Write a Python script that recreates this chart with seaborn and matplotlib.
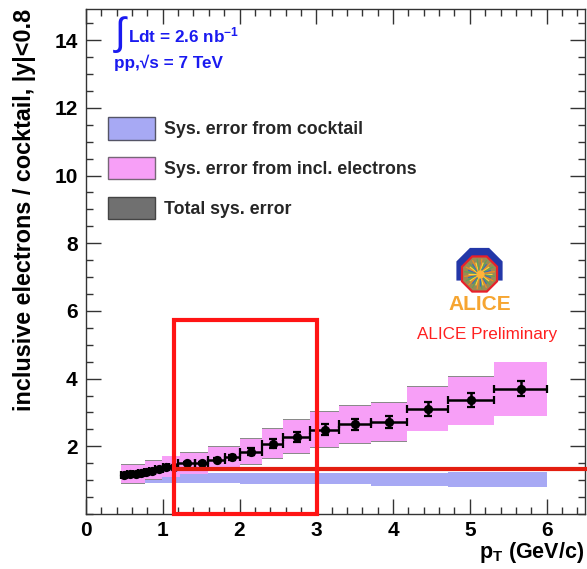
import numpy as np
import matplotlib
matplotlib.use("Agg")
import matplotlib.pyplot as plt
import seaborn as sns
from matplotlib.patches import Patch, Rectangle, RegularPolygon, Polygon
from matplotlib.ticker import MultipleLocator

# ---- inclusive / cocktail ratio, stat. errors ----
pt = [0.50, 0.57, 0.645, 0.715, 0.785, 0.86, 0.95, 1.04, 1.14, 1.31, 1.505,
      1.70, 1.905, 2.145, 2.43, 2.745, 3.11, 3.505, 3.945, 4.45, 5.02, 5.66]
ratio = [1.15, 1.17, 1.19, 1.21, 1.24, 1.28, 1.32, 1.38, 1.40, 1.50, 1.51,
         1.61, 1.68, 1.84, 2.08, 2.28, 2.49, 2.65, 2.73, 3.10, 3.36, 3.70]
stat_err = [0.01, 0.01, 0.01, 0.01, 0.01, 0.01, 0.02, 0.02, 0.02, 0.03, 0.04,
            0.05, 0.07, 0.10, 0.13, 0.15, 0.16, 0.17, 0.18, 0.20, 0.21, 0.22]
pt_edges = [0.46, 0.53, 0.61, 0.68, 0.75, 0.82, 0.90, 1.00, 1.08, 1.20, 1.42,
            1.59, 1.81, 2.00, 2.29, 2.57, 2.92, 3.30, 3.71, 4.18, 4.72, 5.32, 6.00]

# ---- systematic boxes ----
sys_edges = [0.46, 0.77, 0.99, 1.22, 1.59, 2.01, 2.29, 2.57, 2.92, 3.29,
             3.71, 4.18, 4.72, 5.32, 6.00]
incl_lo = [0.91, 1.02, 1.10, 1.19, 1.31, 1.48, 1.65, 1.80, 1.98, 2.09, 2.16, 2.46, 2.64, 2.91]
incl_hi = [1.45, 1.58, 1.70, 1.81, 1.99, 2.22, 2.51, 2.78, 3.02, 3.20, 3.29, 3.75, 4.06, 4.48]
total_lo = [0.89, 1.00, 1.08, 1.17, 1.29, 1.46, 1.63, 1.78, 1.96, 2.07, 2.14, 2.44, 2.62, 2.89]
total_hi = [1.47, 1.60, 1.72, 1.83, 2.01, 2.24, 2.53, 2.80, 3.04, 3.22, 3.31, 3.77, 4.08, 4.50]
cocktail_lo = [0.92, 0.92, 0.91, 0.91, 0.91, 0.90, 0.90, 0.89, 0.89, 0.88, 0.84, 0.82, 0.81, 0.79]
cocktail_hi = [1.14, 1.16, 1.18, 1.20, 1.20, 1.21, 1.21, 1.21, 1.22, 1.22, 1.22, 1.22, 1.23, 1.23]

legend_labels = ["Sys. error from cocktail",
                 "Sys. error from incl. electrons",
                 "Total sys. error"]
x_ticks = [0, 1, 2, 3, 4, 5, 6]
y_ticks = [2, 4, 6, 8, 10, 12, 14]

BLUE_FILL = "#a7a9f4"
PINK_FILL = "#f79ff7"
GREY_FILL = "#8a8a8a"
FRAME = "#333333"

sns.set_theme(style="ticks")
plt.rcParams["font.family"] = ["Liberation Sans", "DejaVu Sans"]
plt.rcParams["mathtext.fontset"] = "custom"
plt.rcParams["mathtext.rm"] = "Liberation Sans"
plt.rcParams["mathtext.bf"] = "Liberation Sans:bold"
plt.rcParams["mathtext.it"] = "Liberation Sans:italic"

W, H = 587, 569
fig = plt.figure(figsize=(W / 100, H / 100), dpi=100)
fig.patch.set_facecolor("white")
ax = fig.add_axes([86 / W, 55 / H, 499 / W, 505 / H])

e = np.array(sys_edges)
widths = np.diff(e)
left = e[:-1]

# cocktail systematic band around unity
ax.bar(left, np.array(cocktail_hi) - np.array(cocktail_lo), bottom=cocktail_lo,
       width=widths, align="edge", color=BLUE_FILL, linewidth=0, zorder=1)
# total systematic (shows as thin rims)
ax.bar(left, np.array(total_hi) - np.array(total_lo), bottom=total_lo,
       width=widths, align="edge", color=GREY_FILL, linewidth=0, zorder=2)
# inclusive electron systematics
ax.bar(left, np.array(incl_hi) - np.array(incl_lo), bottom=incl_lo,
       width=widths, align="edge", color=PINK_FILL, linewidth=0, zorder=3)

# data points with bin-width and statistical error bars
pe = np.array(pt_edges)
ptv = np.array(pt)
xerr = [ptv - pe[:-1], pe[1:] - ptv]
ax.errorbar(pt, ratio, xerr=xerr, yerr=stat_err, fmt="none", ecolor="black",
            elinewidth=1.8, capsize=3.0, capthick=1.6, zorder=4)
sns.scatterplot(x=pt, y=ratio, ax=ax, color="black", s=44, edgecolor="black",
                linewidth=0, zorder=5, legend=False)

# axes styling
ax.set_xlim(0, 6.5)
ax.set_ylim(0, 14.92)
ax.set_xticks(x_ticks)
ax.set_xticklabels([str(t) for t in x_ticks])
ax.set_yticks(y_ticks)
ax.set_yticklabels([str(t) for t in y_ticks])
ax.xaxis.set_minor_locator(MultipleLocator(0.2))
ax.yaxis.set_minor_locator(MultipleLocator(0.5))
ax.tick_params(which="both", direction="in", top=True, right=True,
               color=FRAME, width=1.0)
ax.tick_params(which="major", length=10.5)
ax.tick_params(which="minor", length=5.3)
ax.tick_params(axis="x", which="major", pad=5)
ax.tick_params(axis="y", which="major", pad=6)
for lab in ax.get_xticklabels() + ax.get_yticklabels():
    lab.set_fontweight("bold")
    lab.set_fontsize(15)
    lab.set_color("black")
for s in ax.spines.values():
    s.set_color(FRAME)
    s.set_linewidth(1.0)
ax.set_facecolor("white")

ax.set_ylabel("inclusive electrons / cocktail, |y|<0.8", loc="top",
              fontsize=16.8, fontweight="bold", color="black")
ax.yaxis.set_label_coords(-0.100, 1.0)
ax.set_xlabel(r"$\mathbf{p}_{\mathbf{T}}$ (GeV/c)", loc="right",
              fontsize=15.5, fontweight="bold", color="black")
ax.xaxis.set_label_coords(0.998, -0.052)

# legend
handles = [Patch(facecolor=BLUE_FILL, edgecolor="#555566", linewidth=1.0),
           Patch(facecolor=PINK_FILL, edgecolor="#776677", linewidth=1.0),
           Patch(facecolor="#707070", edgecolor="#444444", linewidth=1.0)]
ax.legend(handles, legend_labels, loc="upper left",
          bbox_to_anchor=(0.044, 0.786), frameon=False, borderpad=0,
          borderaxespad=0, handlelength=2.64, handleheight=1.57,
          labelspacing=0.97, handletextpad=0.5,
          prop={"family": "Liberation Sans", "weight": "bold", "size": 12.8})

# highlighted region and reference level
ax.add_patch(Rectangle((1.15, 0.0), 1.86, 5.74, fill=False, edgecolor="#ff1414",
                       linewidth=3.0, joinstyle="miter", clip_on=False, zorder=8))
ax.plot([1.15, 6.53], [1.33, 1.33], color="#e31e10", linewidth=3.0,
        solid_capstyle="butt", clip_on=False, zorder=7)

# luminosity / collision system text
BLUE_TXT = "#1a1af0"
fig.text(115 / W, 1 - 35 / H, "\u222b", fontsize=28, color=BLUE_TXT,
         ha="left", va="center", family=["Liberation Sans", "DejaVu Sans"])
fig.text(128 / W, 1 - 42 / H, r"Ldt = 2.6 nb$^{\mathbf{-1}}$", fontsize=12.3,
         fontweight="bold", color=BLUE_TXT, ha="left", va="baseline")
fig.text(114 / W, 1 - 68 / H, "pp,\u221as = 7 TeV", fontsize=12.3,
         fontweight="bold", color=BLUE_TXT, ha="left", va="baseline",
         family=["Liberation Sans", "DejaVu Sans"])

# ALICE emblem
lax = fig.add_axes([450 / W, 1 - 300 / H, 65 / W, 55 / H])
lax.set_xlim(450, 515)
lax.set_ylim(300, 245)
lax.axis("off")
cx, cy = 479.5, 271.0
R = 25.0
frame_pts = []
for ang in (202.5, 157.5, 112.5, 67.5, 22.5, -22.5):
    a = np.deg2rad(ang)
    frame_pts.append((cx + R * np.cos(a), cy - R * np.sin(a)))
lax.add_patch(Polygon(frame_pts, closed=True, facecolor="#2337a8", edgecolor="none"))
ox, oy, r = 479.5, 274.0, 19.0
lax.add_patch(RegularPolygon((ox, oy), 8, radius=r, orientation=np.pi / 8,
                             facecolor="#9a8a55", edgecolor="#e8202a", linewidth=1.6))
ray_cols = ["#ffd43b", "#5fa35a", "#3b6fb6", "#f08a24"]
for k in range(40):
    a = 2 * np.pi * k / 40
    rr = 15.5 if k % 2 else 12.0
    lax.plot([ox, ox + rr * np.cos(a)], [oy, oy + rr * np.sin(a)],
             color=ray_cols[k % 4], linewidth=0.9, solid_capstyle="butt")
lax.scatter([ox], [oy], s=25, color="#ffb43a", zorder=3)
fig.text(480 / W, 1 - 304 / H, "ALICE", fontsize=15, fontweight="bold",
         color="#f6a531", ha="center", va="center")
fig.text(487 / W, 1 - 335 / H, "ALICE Preliminary", fontsize=12.3,
         color="#ff2020", ha="center", va="center")

fig.savefig("out.png", dpi=100)
